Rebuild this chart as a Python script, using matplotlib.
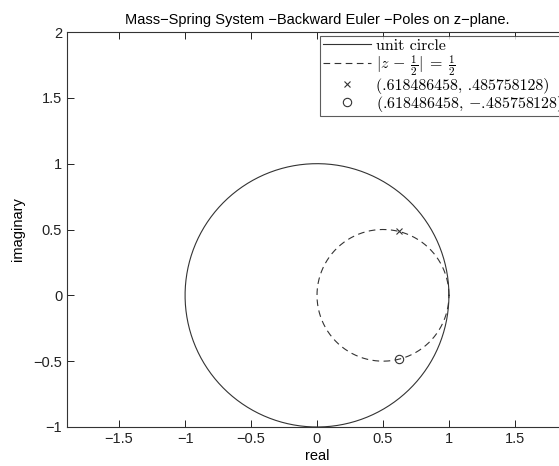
import numpy as np
import matplotlib
matplotlib.use('Agg')
import matplotlib.pyplot as plt

# poles of the backward euler mass-spring system
pole_re = [0.618486458, 0.618486458]
pole_im = [0.485758128, -0.485758128]

# circles: unit circle and |z - 1/2| = 1/2
unit_center = (0.0, 0.0)
unit_radius = 1.0
half_center = (0.5, 0.0)
half_radius = 0.5

x_ticks = [-1.5, -1, -0.5, 0, 0.5, 1, 1.5]
y_ticks = [-1, -0.5, 0, 0.5, 1, 1.5, 2]

plt.rcParams['font.family'] = ['Liberation Sans', 'DejaVu Sans']
plt.rcParams['mathtext.fontset'] = 'cm'

fig = plt.figure(figsize=(5.59, 4.66), dpi=100)
ax = fig.add_axes([67 / 559, 1 - 427 / 466, 500 / 559, 395 / 466])

theta = np.linspace(0, 2 * np.pi, 400)
ax.plot(unit_center[0] + unit_radius * np.cos(theta),
        unit_center[1] + unit_radius * np.sin(theta),
        color='#333333', linewidth=0.8, label='unit circle')
ax.plot(half_center[0] + half_radius * np.cos(theta),
        half_center[1] + half_radius * np.sin(theta),
        color='#333333', linewidth=0.8, linestyle=(0, (6, 4)),
        label=r'$|z\,-\,\frac{1}{2}|\;=\;\frac{1}{2}$')
ax.plot(pole_re[0], pole_im[0], 'x', color='#333333', markersize=5,
        markeredgewidth=0.8,
        label='(.618486458, .485758128)')
ax.plot(pole_re[1], pole_im[1], 'o', color='#333333', markersize=6,
        markerfacecolor='none', markeredgewidth=0.8,
        label='(.618486458, $-$.485758128)')

ax.set_xlim(-1.895, 1.895)
ax.set_ylim(-1, 2)
ax.set_xticks(x_ticks)
ax.set_yticks(y_ticks)
ax.set_xticklabels(['\u22121.5', '\u22121', '\u22120.5', '0', '0.5', '1', '1.5'])
ax.set_yticklabels(['\u22121', '\u22120.5', '0', '0.5', '1', '1.5', '2'])
ax.tick_params(direction='in', top=True, right=True, length=5, width=0.7,
               labelsize=10.5, colors='#222222')
for s in ax.spines.values():
    s.set_linewidth(0.8)
    s.set_color('#333333')

ax.set_xlabel('real', fontsize=10.5, labelpad=2)
ax.set_ylabel('imaginary', fontsize=10.5, labelpad=6)
ax.set_title('Mass\u2212Spring System \u2212Backward Euler \u2212Poles on z\u2212plane.',
             fontsize=10.5, pad=6)

leg = ax.legend(loc='upper right', prop={'family': 'cmr10', 'size': 11.5},
                frameon=True, fancybox=False,
                edgecolor='#333333', handlelength=3.0, borderpad=0.15,
                labelspacing=0.0, handletextpad=0.3, borderaxespad=0,
                bbox_to_anchor=(0.997, 0.99))
leg.get_frame().set_linewidth(0.8)

fig.savefig('out.png', dpi=100)
